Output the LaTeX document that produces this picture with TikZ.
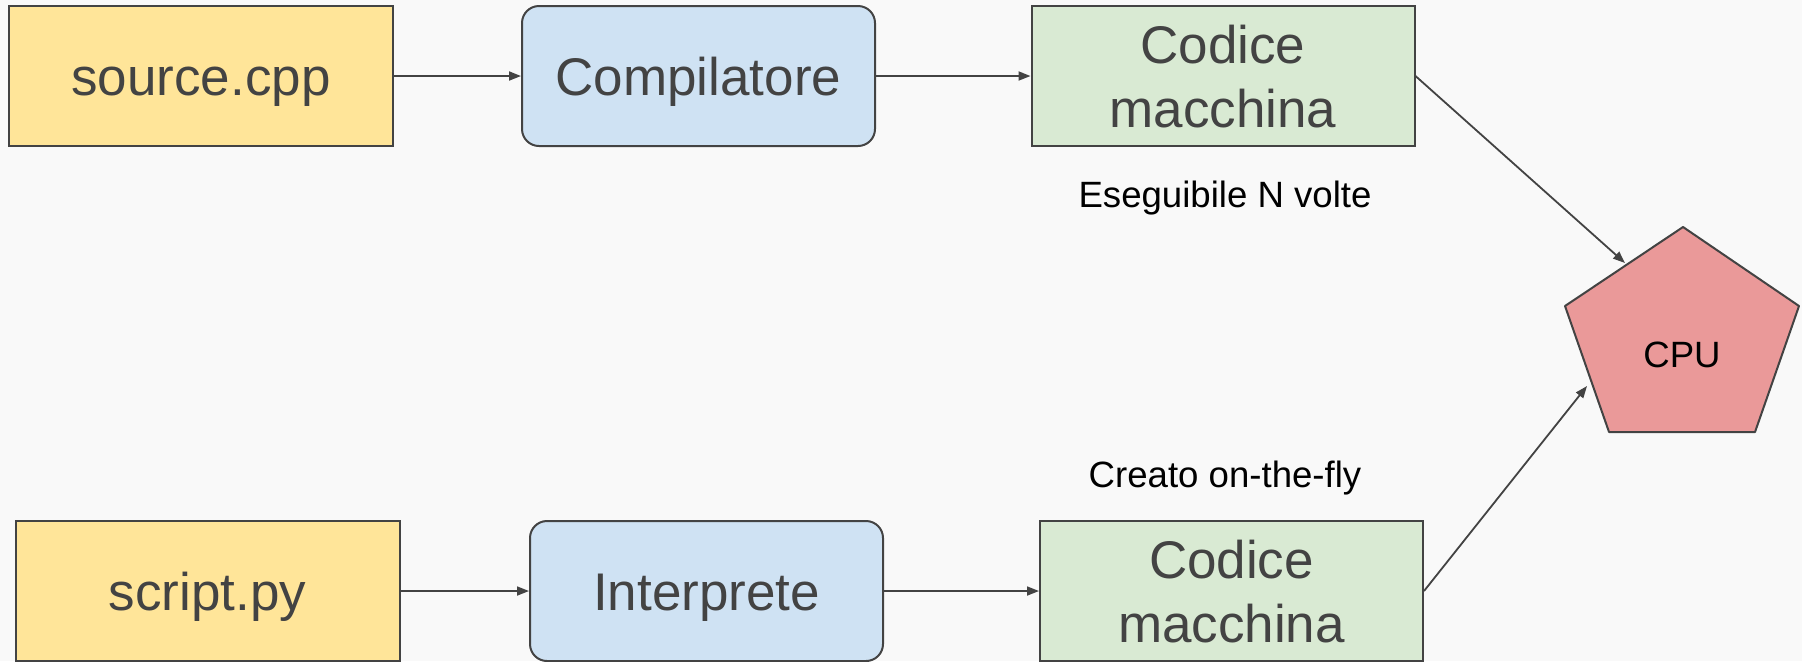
\documentclass[tikz,border=0pt]{standalone}
\usepackage{fontspec}
\setmainfont{Liberation Sans}
\usetikzlibrary{arrows.meta}

\definecolor{edgegray}{HTML}{434343}
\definecolor{srcyellow}{HTML}{FFE599}
\definecolor{toolblue}{HTML}{CFE2F3}
\definecolor{codegreen}{HTML}{D9EAD3}
\definecolor{cpured}{HTML}{EA9999}
\definecolor{slidebg}{HTML}{F9F9F9}

\tikzset{
  box/.style={draw=edgegray, line width=1pt, text=edgegray, minimum height=70pt,
    inner sep=0pt, align=center, text depth=0pt, font=\fontsize{26.5}{31.8}\selectfont},
  srcbox/.style={box, fill=srcyellow, minimum width=192pt, text height=19pt},
  toolbox/.style={box, fill=toolblue, minimum width=176.5pt, rounded corners=8.5pt, text height=19pt},
  codebox/.style={box, fill=codegreen, minimum width=191.5pt},
  note/.style={inner sep=0pt, text depth=0pt, font=\fontsize{18.3}{22}\selectfont},
  flow/.style={->, draw=edgegray, line width=0.9pt},
}

\begin{document}
\begin{tikzpicture}[x=0.5pt, y=-0.5pt, >={Triangle[length=6pt,width=4.5pt]}]
    % Slide background
    \fill[slidebg] (0,0) rectangle (1802,661);
    \useasboundingbox (0,0) rectangle (1802,661);

    % Compiled path
    \node[srcbox] (src) at (201,76) {source.cpp};
    \node[toolbox] (comp) at (698.5,76) {Compilatore};
    \node[codebox] (code1) at (1223,76) {Codice\\macchina};
    \node[note] (runs) at (1225,194) {Eseguibile N volte};

    % Interpreted path
    \node[srcbox] (script) at (207.5,591) {script.py};
    \node[toolbox] (interp) at (706.5,591) {Interprete};
    \node[codebox] (code2) at (1231.5,591) {Codice\\macchina};
    \node[note] (fly) at (1225,474) {Creato on-the-fly};

    % CPU
    \draw[edgegray, fill=cpured, line width=1pt, line join=round]
        (1683,227) -- (1799,306) -- (1755,432) -- (1609,432) -- (1565,306) -- cycle;
    \node[note] (cpu) at (1682,355) {CPU};
    \coordinate (cpuin1) at (1625,263);
    \coordinate (cpuin2) at (1587,386);

    % Arrows
    \draw[flow] (src) -- (comp);
    \draw[flow] (comp) -- (code1);
    \draw[flow] (code1.east) -- (cpuin1);
    \draw[flow] (script) -- (interp);
    \draw[flow] (interp) -- (code2);
    \draw[flow] (code2.east) -- (cpuin2);
\end{tikzpicture}
\end{document}
